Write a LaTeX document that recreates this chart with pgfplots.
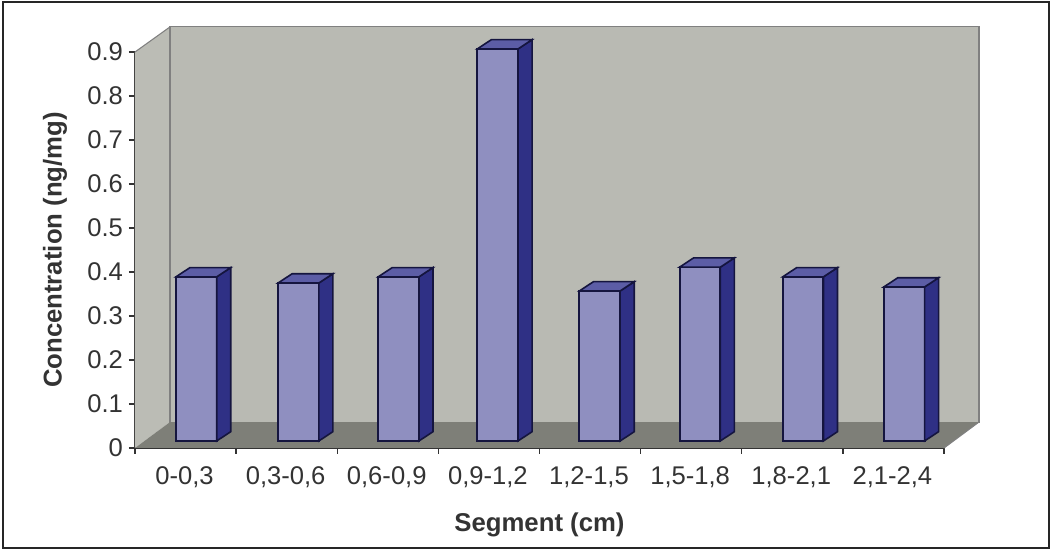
\documentclass[border=0pt]{standalone}
\usepackage{fontspec}
\setmainfont{Liberation Sans}
\usepackage{pgfplots}
\pgfplotsset{compat=1.18}
\definecolor{wall}{HTML}{B9BAB3}
\definecolor{sidewall}{HTML}{BBBCB5}
\definecolor{floorc}{HTML}{7E7F78}
\definecolor{barfront}{HTML}{8F8FC0}
\definecolor{barside}{HTML}{2F3085}
\definecolor{bartop}{HTML}{5C5DA6}
\definecolor{barline}{HTML}{15153F}
\definecolor{txt}{HTML}{333333}
\newcommand{\drawbar}[2]{%
  \pgfmathsetmacro{\xa}{#1}%
  \pgfmathsetmacro{\xb}{#1+0.403}%
  \pgfmathsetmacro{\xc}{#1+0.403+0.1385}%
  \pgfmathsetmacro{\xd}{#1+0.1385}%
  \pgfmathsetmacro{\yt}{#2}%
  \pgfmathsetmacro{\ytt}{#2+0.021}%
  \addplot[fill=barfront,draw=barline,line width=1.5pt] coordinates {(\xa,0.016) (\xb,0.016) (\xb,\yt) (\xa,\yt)} --cycle;
  \addplot[fill=barside,draw=barline,line width=1.2pt] coordinates {(\xb,0.016) (\xc,0.037) (\xc,\ytt) (\xb,\yt)} --cycle;
  \addplot[fill=bartop,draw=barline,line width=1.2pt] coordinates {(\xa,\yt) (\xb,\yt) (\xc,\ytt) (\xd,\ytt)} --cycle;
}
\begin{document}
\begin{tikzpicture}[x=0.75pt,y=0.75pt]
\path[use as bounding box] (-135,-104) rectangle (917,448);
\draw[black!85,line width=1.6pt,fill=white] (-132,-100) rectangle (914,446);
\begin{axis}[
  at={(0,0)},anchor=south west,
  scale only axis,width=606.75pt,height=297pt,
  xmin=0,xmax=8,ymin=0,ymax=0.9,
  clip=false,
  axis x line=bottom,axis y line=left,
  axis line style={-,draw=txt,line width=1pt},
  tick align=outside,
  tick style={draw=txt,line width=1pt},
  major tick length=4.5pt,
  minor tick length=4.5pt,
  xtick={0.5,1.5,2.5,3.5,4.5,5.5,6.5,7.5},
  xticklabels={{0-0,3},{0,3-0,6},{0,6-0,9},{0,9-1,2},{1,2-1,5},{1,5-1,8},{1,8-2,1},{2,1-2,4}},
  x tick style={draw=none},
  minor xtick={0,1,2,3,4,5,6,7,8},
  minor x tick style={draw=txt,line width=1pt},
  ytick={0,0.1,0.2,0.3,0.4,0.5,0.6,0.7,0.8,0.9},
  yticklabels={0,0.1,0.2,0.3,0.4,0.5,0.6,0.7,0.8,0.9},
  ticklabel style={font=\fontsize{19.2}{21}\selectfont,text=txt},
  xticklabel style={yshift=-6.2pt,xshift=-0.8pt},
  yticklabel style={xshift=-1pt,yshift=0.6pt},
  xlabel={\bfseries Segment (cm)},
  ylabel={\bfseries Concentration (ng/mg)},
  label style={font=\fontsize{19.3}{22}\selectfont,text=txt},
  xlabel style={at={(rel axis cs:0.5,0)},anchor=center,yshift=-58pt},
  ylabel style={at={(rel axis cs:0,0.5)},anchor=center,xshift=0pt,yshift=60pt},
]
% side wall, back wall, floor
\addplot[fill=sidewall,draw=none] coordinates {(0,0) (0.346,0.059) (0.346,0.957) (0,0.9)} --cycle;
\addplot[fill=wall,draw=black!50,line width=0.8pt] coordinates {(0.346,0.059) (8.346,0.059) (8.346,0.957) (0.346,0.957)} --cycle;
\addplot[fill=floorc,draw=none] coordinates {(0,0) (8,0) (8.346,0.059) (0.346,0.059)} --cycle;
\addplot[draw=black!50,line width=0.8pt] coordinates {(0,0.9) (0.346,0.957)};
\addplot[draw=black!50,line width=0.8pt] coordinates {(8,0) (8.346,0.059)};
% bars: left edge, top
\drawbar{0.405}{0.389}
\drawbar{1.415}{0.375}
\drawbar{2.405}{0.389}
\drawbar{3.385}{0.907}
\drawbar{4.395}{0.357}
\drawbar{5.385}{0.411}
\drawbar{6.405}{0.389}
\drawbar{7.405}{0.366}
\end{axis}
\end{tikzpicture}
\end{document}
